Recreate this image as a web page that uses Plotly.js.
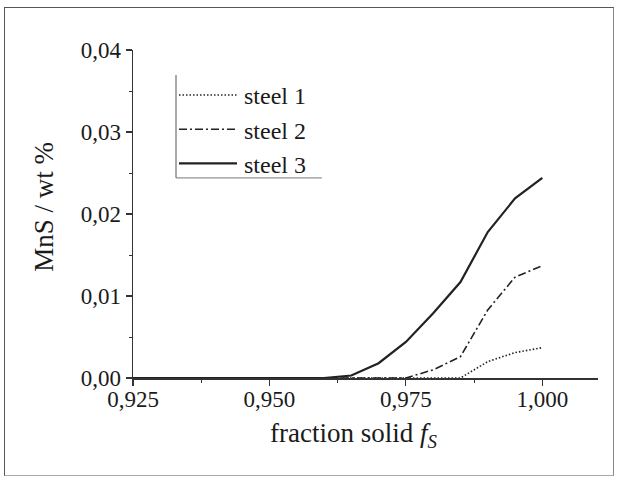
<!DOCTYPE html>
<html>
<head>
<meta charset="utf-8">
<script src="https://cdn.plot.ly/plotly-3.0.1.min.js"></script>
<style>
  html, body { margin: 0; padding: 0; background: #fff; }
  #chart { width: 619px; height: 478px; }
  #frame { position: absolute; left: 4px; top: 7px; width: 608px; height: 467px;
           border: 1.5px solid #555; border-right-color: #888; border-bottom-color: #aaa;
           pointer-events: none; }
</style>
</head>
<body>
<div id="chart"></div>
<div id="frame"></div>
<script>
// fraction solid values
const fractionSolid = [0.925, 0.930, 0.935, 0.940, 0.945, 0.950, 0.955, 0.960,
                       0.965, 0.970, 0.975, 0.980, 0.985, 0.990, 0.995, 1.000];
// MnS content / wt %
const steel1 = [0, 0, 0, 0, 0, 0, 0, 0, 0, 0, 0, 0, 0, 0.0020, 0.0031, 0.0037];
const steel2 = [0, 0, 0, 0, 0, 0, 0, 0, 0, 0, 0, 0.0010, 0.0026, 0.0083, 0.0123, 0.0137];
const steel3 = [0, 0, 0, 0, 0, 0, 0, 0, 0.0003, 0.0018, 0.0044, 0.0079, 0.0117, 0.0178, 0.0219, 0.0244];
const seriesNames = ["steel 1", "steel 2", "steel 3"];

const FONT = "'Liberation Serif', 'Times New Roman', Times, serif";

const traces = [
  { x: fractionSolid, y: steel1, name: seriesNames[0], mode: "lines",
    line: { color: "#222", width: 1.6, dash: "1.5px,2px" } },
  { x: fractionSolid, y: steel2, name: seriesNames[1], mode: "lines",
    line: { color: "#222", width: 1.6, dash: "8px,3px,2px,3px" } },
  { x: fractionSolid, y: steel3, name: seriesNames[2], mode: "lines",
    line: { color: "#222", width: 2.2 } }
];

const axisCommon = {
  showgrid: false, zeroline: false, showline: true,
  linecolor: "#333", linewidth: 1.5,
  ticks: "outside", ticklen: 6, tickwidth: 1.2, tickcolor: "#333",
  tickfont: { family: FONT, size: 23, color: "#1a1a1a" },
  minor: { ticks: "outside", ticklen: 3, tickwidth: 1, tickcolor: "#333" }
};

const layout = {
  width: 619, height: 478,
  margin: { l: 133, r: 21, t: 50, b: 100 },
  paper_bgcolor: "#fff", plot_bgcolor: "#fff",
  separators: ", ",
  showlegend: true,
  legend: {
    x: 0.0925, y: 0.93, xanchor: "left", yanchor: "top",
    bgcolor: "rgba(0,0,0,0)", borderwidth: 0,
    font: { family: FONT, size: 24, color: "#1a1a1a" },
    itemwidth: 58, tracegroupgap: 0
  },
  xaxis: Object.assign({}, axisCommon, {
    range: [0.925, 1.0102], tick0: 0.925, dtick: 0.025, tickformat: ".3f",
    ticklabelstandoff: -6,
    minor: Object.assign({}, axisCommon.minor, { dtick: 0.0125, tick0: 0.925 })
  }),
  yaxis: Object.assign({}, axisCommon, {
    range: [0, 0.04], tick0: 0, dtick: 0.01, tickformat: ".2f",
    minor: Object.assign({}, axisCommon.minor, { dtick: 0.005 })
  }),
  annotations: [
    { text: "fraction solid <i>f</i><sub><i>S</i></sub>", xref: "paper", yref: "paper",
      x: 0.475, y: -0.175, xanchor: "center", yanchor: "middle", showarrow: false,
      font: { family: FONT, size: 27, color: "#1a1a1a" } },
    { text: "MnS / wt %", xref: "paper", yref: "paper", textangle: -90,
      x: -0.192, y: 0.521, xanchor: "center", yanchor: "middle", showarrow: false,
      font: { family: FONT, size: 27, color: "#1a1a1a" } }
  ],
  shapes: [
    { type: "line", xref: "paper", yref: "paper", x0: 0.0925, x1: 0.0925, y0: 0.924, y1: 0.61,
      line: { color: "#555", width: 1 } },
    { type: "line", xref: "paper", yref: "paper", x0: 0.0925, x1: 0.406, y0: 0.61, y1: 0.61,
      line: { color: "#777", width: 1 } }
  ]
};

Plotly.newPlot("chart", traces, layout, { displayModeBar: false, staticPlot: true }).then(function (gd) {
  // widen the legend line samples to match the reference
  gd.querySelectorAll(".legend .legendlines path").forEach(function (p) {
    p.setAttribute("d", "M3,0h58");
  });
});
</script>
</body>
</html>
